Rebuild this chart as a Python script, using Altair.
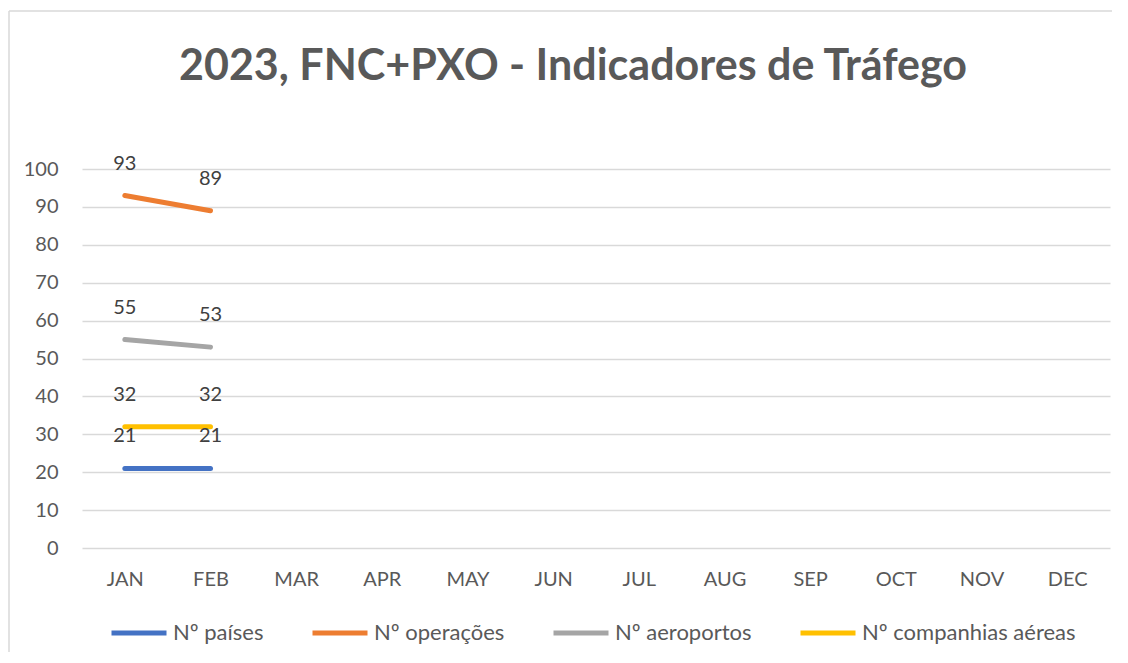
import altair as alt
import pandas as pd

months = ["JAN", "FEB", "MAR", "APR", "MAY", "JUN", "JUL", "AUG", "SEP", "OCT", "NOV", "DEC"]
data_months = ["JAN", "FEB"]
series_names = ["Nº países", "Nº operações", "Nº aeroportos", "Nº companhias aéreas"]
paises = [21, 21]
operacoes = [93, 89]
aeroportos = [55, 53]
companhias = [32, 32]
colors = ["#4472C4", "#ED7D31", "#A5A5A5", "#FFC000"]
title_text = "2023, FNC+PXO - Indicadores de Tráfego"
y_ticks = list(range(0, 101, 10))

rows = []
for name, vals in zip(series_names, [paises, operacoes, aeroportos, companhias]):
    for m, v in zip(data_months, vals):
        rows.append({"month": m, "series": name, "value": v})
df = pd.DataFrame(rows)

FONT = "Lato"
W, H = 1028, 379

x = alt.X("month:O", scale=alt.Scale(domain=months), sort=months,
          axis=alt.Axis(title=None, labelAngle=0, domain=False, ticks=False, labelPadding=21,
                        labelFontSize=20, labelColor="#595959", labelFont=FONT))
y = alt.Y("value:Q", scale=alt.Scale(domain=[0, 100], nice=False, zero=True),
          axis=alt.Axis(title=None, values=y_ticks, domain=False, ticks=False, grid=True,
                        gridColor="#D9D9D9", gridWidth=1.5, labelPadding=24,
                        labelFontSize=20, labelColor="#595959", labelFont=FONT))

color = alt.Color("series:N", scale=alt.Scale(domain=series_names, range=colors),
                  legend=alt.Legend(orient="none", legendX=27, legendY=434, direction="horizontal",
                                    columns=4, title=None, symbolType="stroke", symbolSize=3025,
                                    symbolStrokeWidth=5, labelFontSize=22, labelFont=FONT,
                                    labelColor="#595959", columnPadding=38, labelOffset=4,
                                    labelLimit=0))

base = alt.Chart(df)
lines = base.mark_line(strokeWidth=5, strokeCap="round").encode(x=x, y=y, color=color)
labels = base.mark_text(dy=-32, baseline="middle", fontSize=20, font=FONT, color="#404040").encode(
    x=x, y=y, text="value:Q", detail="series:N")

frame = alt.Data(values=[{}])
border_left = alt.Chart(frame).mark_rule(stroke="#D9D9D9", strokeWidth=1.5).encode(
    x=alt.value(-73), y=alt.value(-158), y2=alt.value(484))
border_top = alt.Chart(frame).mark_rule(stroke="#D9D9D9", strokeWidth=1.5).encode(
    x=alt.value(-73), x2=alt.value(1030), y=alt.value(-158))

title = alt.Chart(frame).mark_text(
    text=title_text, font=FONT, fontSize=43, fontWeight="bold", color="#595959",
    align="center", baseline="alphabetic").encode(x=alt.value(491), y=alt.value(-89))

chart = alt.layer(border_left, border_top, title, lines, labels).properties(
    width=W, height=H, autosize="none",
    padding={"left": 74, "top": 161, "right": 8, "bottom": 104},
).configure_view(stroke=None)

chart.save("out.html", embed_options={"renderer": "svg", "actions": False})
